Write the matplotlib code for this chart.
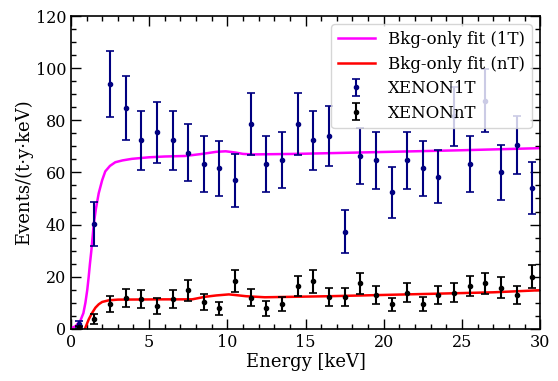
import matplotlib
matplotlib.use("Agg")
import matplotlib.pyplot as plt
from matplotlib.ticker import MultipleLocator

plt.rcParams['font.family'] = ['DejaVu Serif']

# binned energies [keV]
energy = [0.5, 1.5, 2.5, 3.5, 4.5, 5.5, 6.5, 7.5, 8.5, 9.5,
          10.5, 11.5, 12.5, 13.5, 14.5, 15.5, 16.5, 17.5, 18.5, 19.5,
          20.5, 21.5, 22.5, 23.5, 24.5, 25.5, 26.5, 27.5, 28.5, 29.5]

# XENON1T data
rate_1t = [1.7, 40.2, 93.9, 84.6, 72.3, 75.4, 72.3, 67.6, 63.2, 61.6,
           56.9, 78.5, 63.2, 64.7, 78.5, 72.3, 74.1, 37.2, 66.3, 64.6,
           52.3, 64.6, 61.6, 58.4, 81.5, 63.2, 87.5, 60.1, 70.6, 54.0]
err_1t = [1.2, 8.6, 12.8, 12.2, 11.3, 11.8, 11.3, 11.0, 10.7, 10.5,
          10.3, 12.0, 10.7, 10.7, 12.0, 11.3, 11.5, 8.2, 10.9, 10.8,
          9.8, 10.8, 10.5, 10.3, 11.2, 10.9, 12.1, 10.6, 11.2, 10.0]

# XENONnT data
rate_nt = [0.5, 3.6, 9.4, 11.9, 11.5, 8.7, 11.5, 14.7, 10.4, 7.8,
           18.3, 11.9, 7.8, 9.4, 16.4, 18.3, 12.3, 12.3, 17.4, 12.9,
           9.4, 13.8, 9.4, 12.9, 13.8, 16.4, 17.4, 15.8, 12.9, 20.0]
err_nt = [0.5, 1.9, 3.0, 3.5, 3.5, 3.0, 3.5, 4.0, 3.0, 2.4,
          4.3, 3.2, 2.7, 2.7, 4.0, 4.4, 3.4, 3.4, 4.1, 3.4,
          2.4, 3.6, 2.7, 3.4, 3.6, 3.9, 4.1, 3.9, 3.4, 4.5]

# background-only fits
fit_1t_e = [0.0, 0.3, 0.6, 0.8, 0.93, 1.05, 1.14, 1.22, 1.31, 1.46, 1.6,
            1.78, 2.0, 2.2, 2.5, 2.84, 3.3, 3.9, 5.0, 6.0, 7.3, 8.4, 9.3,
            9.9, 10.55, 11.0, 11.6, 14.4, 19.7, 25.0, 30.0]
fit_1t = [0.2, 1.0, 3.0, 6.0, 10.0, 15.0, 20.0, 25.0, 30.0, 40.0, 46.0,
          52.0, 57.0, 60.4, 62.5, 63.9, 64.6, 65.2, 65.8, 66.1, 66.3, 67.1, 67.9,
          68.1, 67.6, 67.1, 66.9, 67.1, 67.8, 68.5, 69.3]

fit_nt_e = [0.9, 1.14, 1.35, 1.57, 1.78, 2.0, 2.4, 3.0, 6.0, 7.75, 8.6,
            9.3, 10.1, 10.6, 11.2, 12.4, 16.5, 22.9, 27.0, 30.0]
fit_nt = [0.0, 3.6, 6.0, 8.1, 9.4, 10.3, 10.9, 11.2, 11.3, 11.3, 12.3,
          12.8, 13.2, 12.9, 12.5, 12.1, 12.5, 13.4, 14.0, 14.8]

fig = plt.figure(figsize=(5.58, 3.81), dpi=100)
ax = fig.add_axes([0.127, 0.137, 0.841, 0.821])

ax.plot(fit_1t_e, fit_1t, color='magenta', lw=1.8, label='Bkg-only fit (1T)')
ax.plot(fit_nt_e, fit_nt, color='red', lw=1.8, label='Bkg-only fit (nT)')
ax.errorbar(energy, rate_1t, yerr=err_1t, fmt='o', ms=3, color='navy',
            elinewidth=1.5, capsize=3, capthick=1.2, label='XENON1T')
ax.errorbar(energy, rate_nt, yerr=err_nt, fmt='o', ms=3, color='black',
            elinewidth=1.5, capsize=3, capthick=1.2, label='XENONnT')

ax.set_xlim(0, 30)
ax.set_ylim(0, 120)
ax.xaxis.set_major_locator(MultipleLocator(5))
ax.xaxis.set_minor_locator(MultipleLocator(1))
ax.yaxis.set_major_locator(MultipleLocator(20))
ax.yaxis.set_minor_locator(MultipleLocator(5))
ax.tick_params(which='both', direction='in', top=True, right=True, labelsize=11.5)
ax.tick_params(which='major', length=7, width=1)
ax.tick_params(which='minor', length=3.5, width=1)
for s in ax.spines.values():
    s.set_linewidth(1.2)

ax.set_xlabel('Energy [keV]', fontsize=13, labelpad=2)
ax.set_ylabel('Events/(t·y·keV)', fontsize=13, labelpad=2)
ax.legend(loc='upper right', fontsize=12, handlelength=2.2,
          borderaxespad=0.5, labelspacing=0.45)

fig.savefig('out.png', dpi=100)
